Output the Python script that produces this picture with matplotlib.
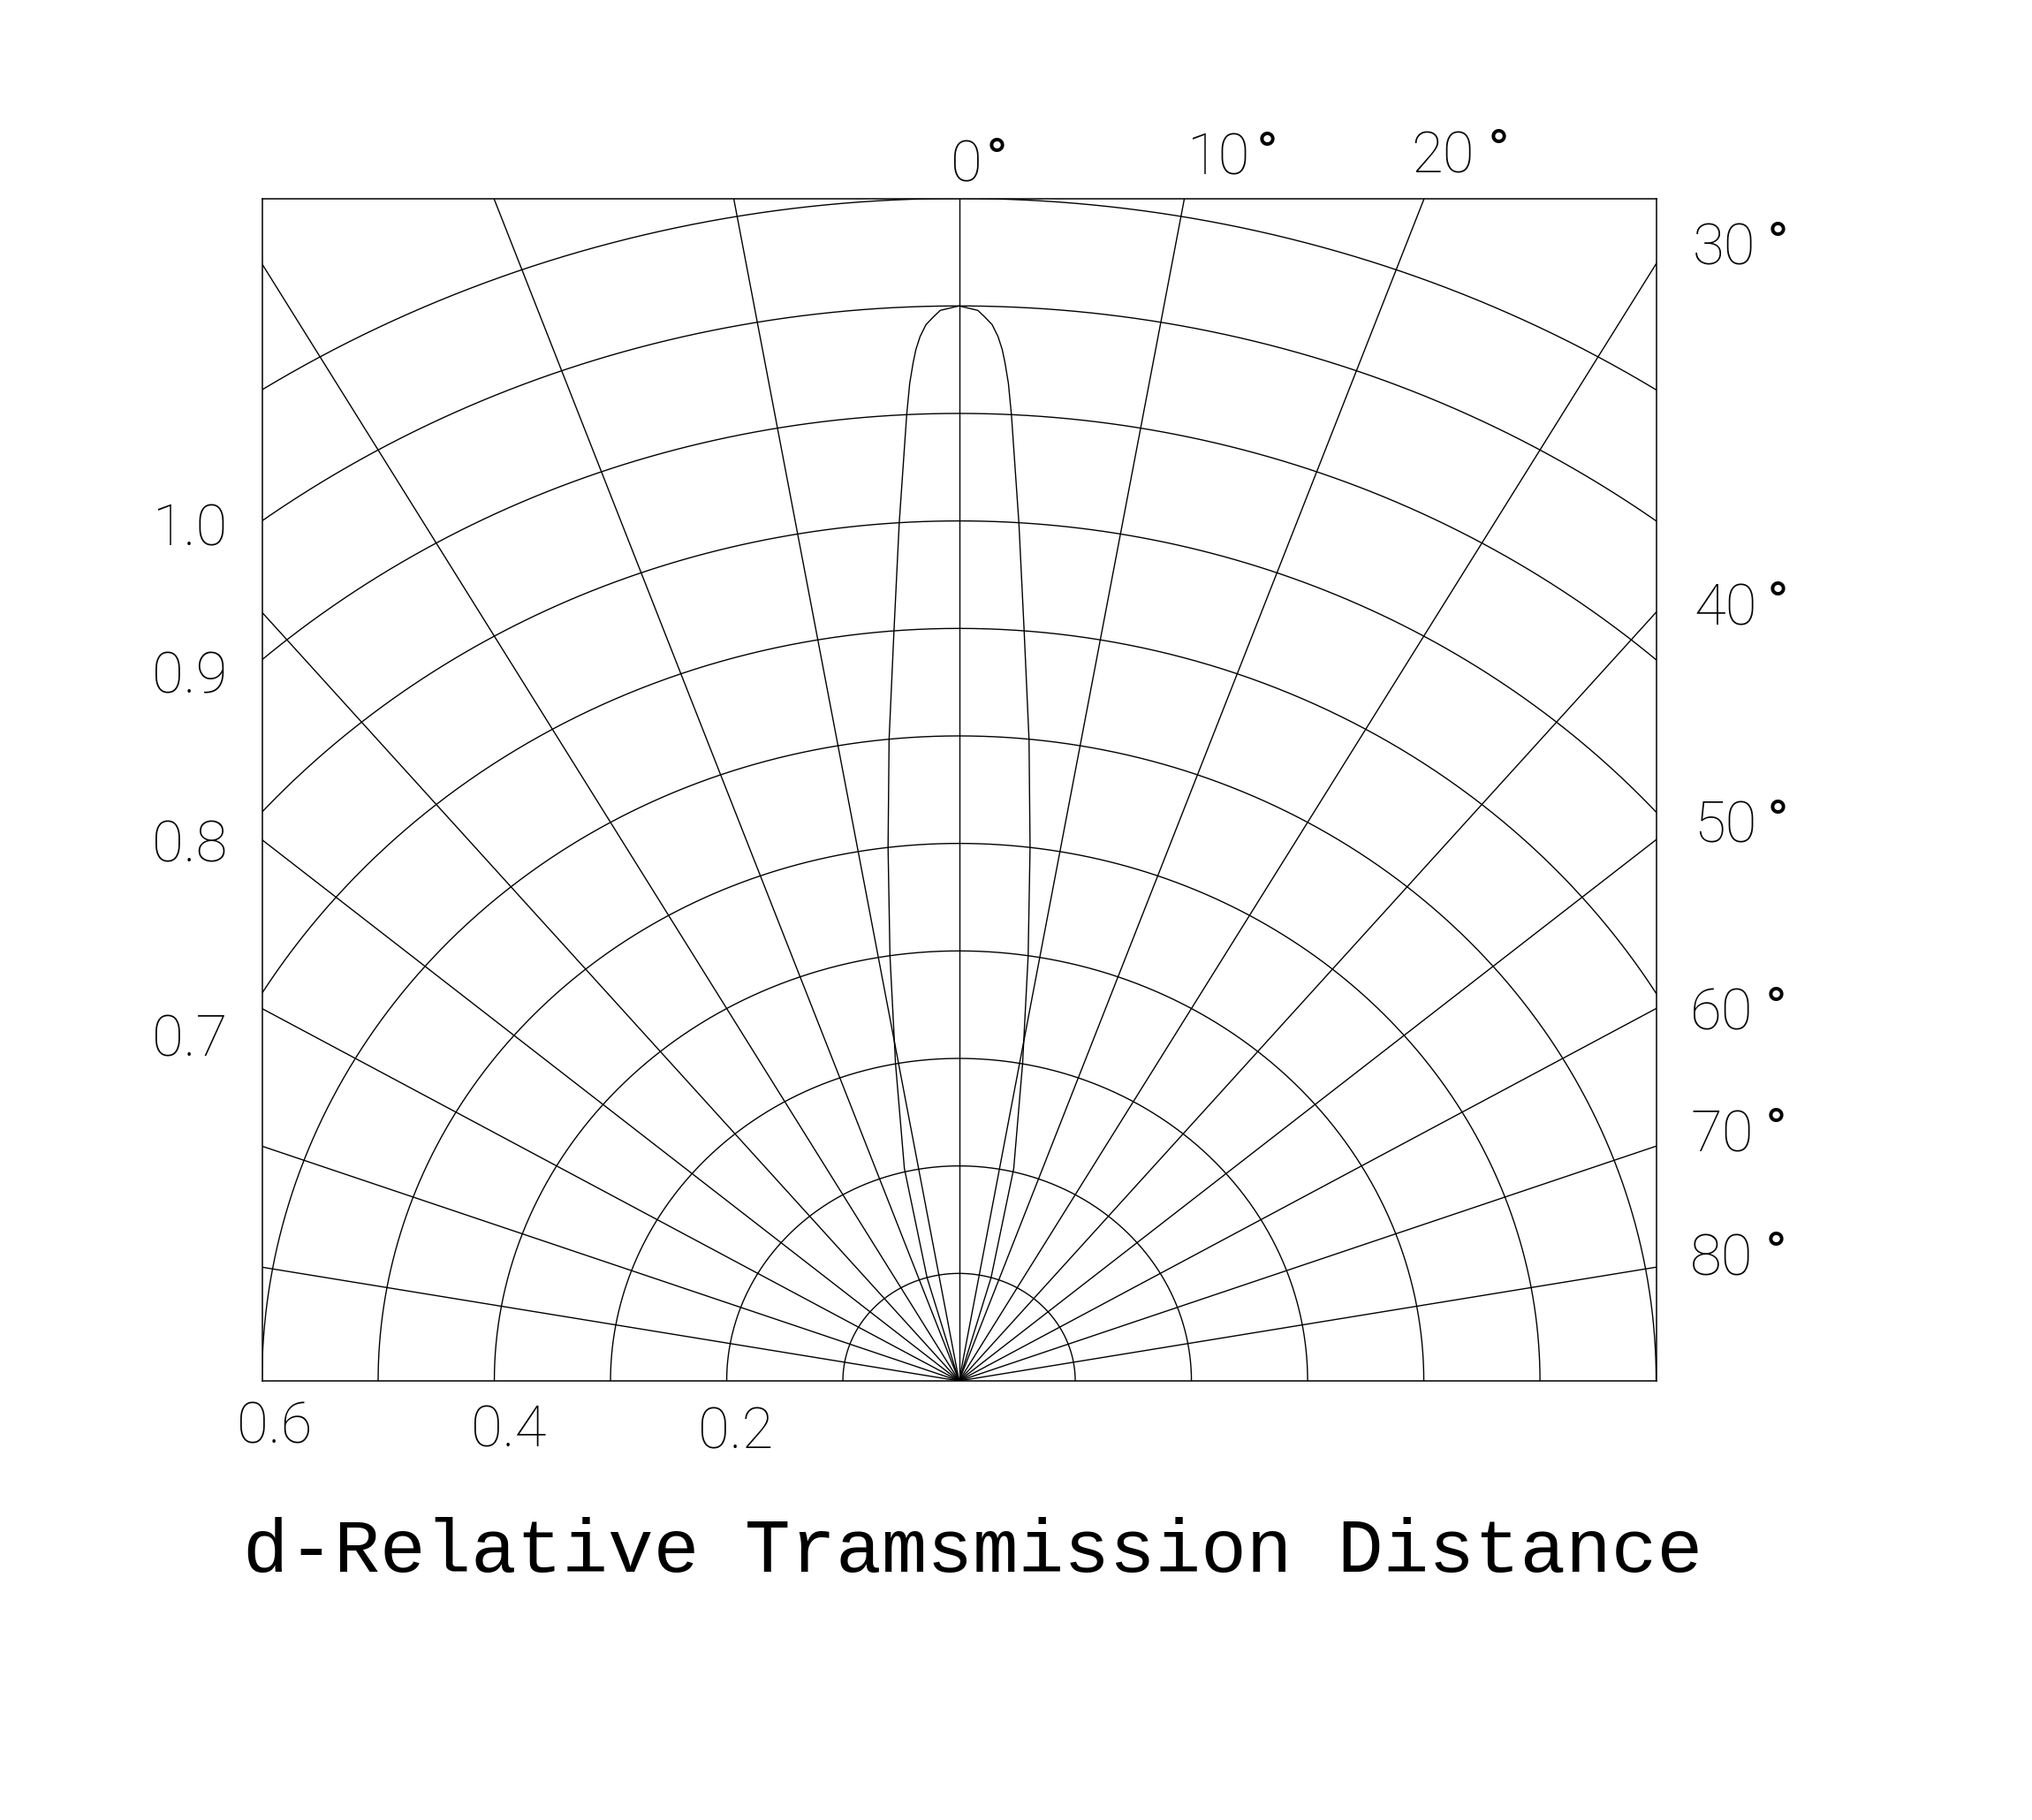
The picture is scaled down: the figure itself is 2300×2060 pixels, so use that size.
import numpy as np
import matplotlib
matplotlib.use("Agg")
import matplotlib.pyplot as plt

# ---------------- data ----------------
ring_radii = [0.1, 0.2, 0.3, 0.4, 0.5, 0.6, 0.7, 0.8, 0.9, 1.0, 1.1]
spoke_angles_deg = [-80, -70, -60, -50, -40, -30, -20, -10, 0, 10, 20, 30, 40, 50, 60, 70, 80]

# measured beam lobe (one side, symmetric about 0 deg)
lobe_angle_deg = [0.0, 0.93, 1.28, 1.66, 1.98, 2.22, 2.39, 2.62, 2.87, 3.69, 4.59,
                  5.76, 7.02, 8.55, 10.5, 13.4, 16.0, 18.0]
lobe_r = [1.0, 0.996, 0.990, 0.983, 0.972, 0.960, 0.948, 0.929, 0.900, 0.800, 0.700,
          0.600, 0.500, 0.400, 0.300, 0.203, 0.100, 0.0]

left_labels = ["1.0", "0.9", "0.8", "0.7"]
bottom_labels = ["0.6", "0.4", "0.2"]
top_angle_labels = ["0", "10", "20"]
right_angle_labels = ["30", "40", "50", "60", "70", "80"]
title_text = "d-Relative Tramsmission Distance"

# ---------------- figure ----------------
W, H = 2300, 2060
fig = plt.figure(figsize=(W / 100, H / 100), dpi=100)
fig.patch.set_facecolor("white")

box_l, box_r, box_t, box_b = 296.5, 1874.6, 224.6, 1563.0
ax = fig.add_axes([box_l / W, 1 - box_b / H, (box_r - box_l) / W, (box_b - box_t) / H])
ax.set_xlim(-0.6, 0.6)
ax.set_ylim(0, 1.1)
ax.set_xticks([])
ax.set_yticks([])
for s in ax.spines.values():
    s.set_linewidth(1.1)
    s.set_color("black")

lw = 1.0
t = np.radians(np.linspace(-90, 90, 721))
for r in ring_radii:
    ax.plot(r * np.sin(t), r * np.cos(t), color="black", lw=lw, solid_capstyle="butt")

for a in spoke_angles_deg:
    ar = np.radians(a)
    ax.plot([0, 2.0 * np.sin(ar)], [0, 2.0 * np.cos(ar)], color="black", lw=lw)

th = np.radians(np.array(lobe_angle_deg))
rr = np.array(lobe_r)
th_full = np.concatenate([-th[::-1], th[1:]])
r_full = np.concatenate([rr[::-1], rr[1:]])
ax.plot(r_full * np.sin(th_full), r_full * np.cos(th_full), color="black", lw=lw)

# ---------------- labels ----------------
def px(x, y):
    return x / W, 1 - y / H

num_font = dict(family=["Roboto", "DejaVu Sans"], fontsize=47, fontweight="light", color="black")
deg_font = dict(family=["DejaVu Sans"], fontsize=36, fontweight="bold", color="black")

left_pos = [(172, 617), (172, 785), (172, 976), (172, 1196)]
for lab, (x, y) in zip(left_labels, left_pos):
    fig.text(*px(x, y), lab, ha="left", va="baseline", **num_font)

bottom_pos = [(268, 1633), (533, 1638), (790, 1640)]
for lab, (x, y) in zip(bottom_labels, bottom_pos):
    fig.text(*px(x, y), lab, ha="left", va="baseline", **num_font)

top_pos = [(1076, 205, 1116), (1343, 198, 1422), (1597, 195, 1684)]
for lab, (x, y, xd) in zip(top_angle_labels, top_pos):
    fig.text(*px(x, y), lab, ha="left", va="baseline", **num_font)
    fig.text(*px(xd, y - 50), "°", ha="left", va="top", **deg_font)

right_pos = [(1916, 300, 2000), (1917, 707, 2000), (1917, 954, 2000),
             (1913, 1166, 1998), (1913, 1303, 1998), (1913, 1443, 1998)]
for lab, (x, y, xd) in zip(right_angle_labels, right_pos):
    fig.text(*px(x, y), lab, ha="left", va="baseline", **num_font)
    fig.text(*px(xd, y - 50), "°", ha="left", va="top", **deg_font)

fig.text(*px(1101, 1779), title_text, ha="center", va="baseline",
         family=["Liberation Mono", "DejaVu Sans Mono"], fontsize=62, color="black")

fig.savefig("out.png", dpi=100, facecolor="white")
